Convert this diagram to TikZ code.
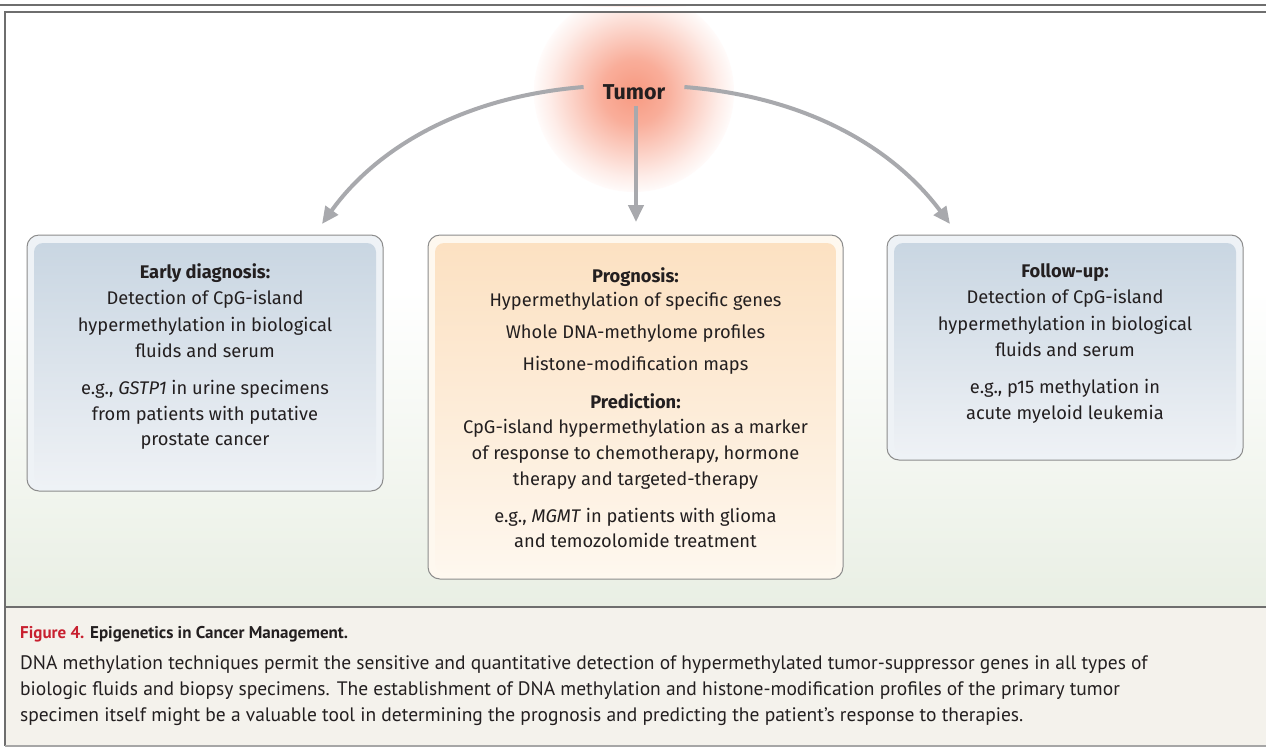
\documentclass[tikz,border=0pt]{standalone}
\usepackage{fontspec}
\setmainfont{Fira Sans}
\newfontfamily\capfont{PT Sans}
\usetikzlibrary{arrows.meta}
\definecolor{framegray}{HTML}{6E6E6E}
\definecolor{arrowgray}{HTML}{A8A9AD}
\definecolor{boxedge}{HTML}{8C8C8C}
\definecolor{bluetop}{HTML}{C9D6E2}
\definecolor{bluebot}{HTML}{EEF1F5}
\definecolor{blueband}{HTML}{EEF2F6}
\definecolor{orangetop}{HTML}{FCE1C2}
\definecolor{orangebot}{HTML}{FEF7EE}
\definecolor{orangeband}{HTML}{FEF8EF}
\definecolor{panelgreen}{HTML}{E9EFE4}
\definecolor{capbg}{HTML}{F4F2EC}
\definecolor{figred}{HTML}{C8202F}
\definecolor{textdark}{HTML}{231F20}
\definecolor{tumorcore}{HTML}{F6876A}
\pgfdeclareradialshading{glow}{\pgfpoint{0bp}{0bp}}{color(0bp)=(tumorcore!85!white); color(8bp)=(tumorcore!68!white); color(15bp)=(tumorcore!40!white); color(21bp)=(tumorcore!16!white); color(26bp)=(white); color(50bp)=(white)}
\tikzset{
  conn/.style={draw=arrowgray, line width=4pt, -{Triangle[length=17pt,width=15pt]}},
  outerbox/.style={draw=boxedge, line width=1pt, rounded corners=12pt},
  boxtext/.style={inner sep=0pt, anchor=north, align=center, text=textdark, font=\fontsize{18.3}{26.5}\selectfont},
}
\begin{document}
\begin{tikzpicture}[x=1pt,y=-1pt]
\useasboundingbox (0,0) rectangle (1266,748);
% frame and backgrounds
\fill[white] (0,0) rectangle (1266,748);
% tumor glow
\shade[shading=glow] (634,92) circle (100);
\shade[top color=white, bottom color=panelgreen] (5,290) rectangle (1266,607);
\fill[capbg] (5,607) rectangle (1266,746);
\fill[white] (0,0) rectangle (1266,4);
\draw[framegray, line width=2.5pt] (0,5) -- (1266,5);
\fill[white] (0,6.5) rectangle (1266,11);
\draw[framegray, line width=2pt] (1270,12) -- (5,12) -- (5,746);
\draw[gray!70, line width=1.5pt] (5,746) -- (1270,746);
\draw[framegray, line width=2.5pt] (5,607) -- (1266,607);
\node[font=\fontsize{21.5}{24}\selectfont\bfseries, text=textdark, inner xsep=19pt, inner ysep=6pt] (tumor) at (634,92) {Tumor};
% boxes
\fill[blueband, outerbox] (27,235) rectangle (383,491);
\shade[top color=bluetop, bottom color=bluebot, rounded corners=9pt] (34,243) rectangle (376,484);
\fill[orangeband, outerbox] (428,235) rectangle (843,579);
\shade[top color=orangetop, bottom color=orangebot, rounded corners=9pt] (435,243) rectangle (836,572);
\fill[blueband, outerbox] (887,235) rectangle (1243,460);
\shade[top color=bluetop, bottom color=bluebot, rounded corners=9pt] (894,243) rectangle (1236,453);
\node[boxtext] (early) at (205,263) {\textbf{Early diagnosis:}\\Detection of CpG-island\\hypermethylation in biological\\fluids and serum\\[10.5pt]e.g., \textit{GSTP1} in urine specimens\\[-1pt]from patients with putative\\[-1pt]prostate cancer};
\node[boxtext, font=\fontsize{18.3}{26}\selectfont] (prog) at (635.5,267) {\textbf{Prognosis:}\\[-2pt]Hypermethylation of specific genes\\[6pt]Whole DNA-methylome profiles\\[6pt]Histone-modification maps\\[12pt]\textbf{Prediction:}\\[-1pt]CpG-island hypermethylation as a marker\\of response to chemotherapy, hormone\\therapy and targeted-therapy\\[11pt]e.g., \textit{MGMT} in patients with glioma\\[-1pt]and temozolomide treatment};
\node[boxtext] (follow) at (1065,263) {\textbf{Follow-up:}\\Detection of CpG-island\\hypermethylation in biological\\fluids and serum\\[10.5pt]e.g., p15 methylation in\\[-1pt]acute myeloid leukemia};
% connectors
\coordinate (ltip) at (322,224);
\coordinate (ctip) at (636,222);
\coordinate (rtip) at (950,224);
\draw[conn] ([yshift=5pt]tumor.west) .. controls (460,97) and (375,150) .. (ltip);
\draw[conn] ([yshift=5pt]tumor.east) .. controls (810,97) and (895,150) .. (rtip);
\draw[conn] ([xshift=2pt]tumor.south) -- (ctip);
% caption
\node[anchor=base west, inner sep=0pt, font=\capfont\fontsize{17}{20}\selectfont\bfseries, text=textdark] (title) at (20,638) {\textcolor{figred}{Figure 4.} Epigenetics in Cancer Management.};
\node[anchor=north west, inner sep=0pt, align=left, font=\capfont\fontsize{19.5}{26}\selectfont, text=textdark] (body) at (20,655) {DNA methylation techniques permit the sensitive and quantitative detection of hypermethylated tumor-suppressor genes in all types of\\biologic fluids and biopsy specimens. The establishment of DNA methylation and histone-modification profiles of the primary tumor\\specimen itself might be a valuable tool in determining the prognosis and predicting the patient’s response to therapies.};
\end{tikzpicture}
\end{document}
